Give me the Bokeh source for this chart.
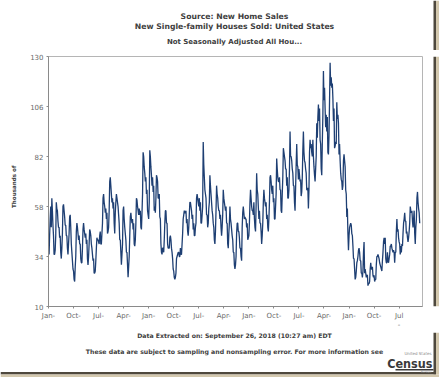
from bokeh.plotting import figure
from bokeh.models import Range1d, FixedTicker, Label
from bokeh.layouts import column, row
from bokeh.embed import file_html
from bokeh.resources import INLINE

# Monthly new single-family houses sold, not seasonally adjusted (thousands)
sales_1960s = [
    42, 35, 44, 52, 58, 48, 62, 56, 49, 44, 35, 35,   # 1963
    37, 44, 60, 57, 56, 51, 48, 48, 43, 44, 36, 33,   # 1964
    38, 45, 58, 59, 56, 53, 49, 49, 44, 44, 38, 35,   # 1965
    40, 45, 53, 54, 48, 40, 36, 32, 28, 27, 23, 22,   # 1966
    29, 34, 46, 50, 48, 45, 42, 44, 40, 40, 33, 31,   # 1967
    31, 38, 47, 50, 47, 45, 43, 45, 40, 42, 33, 30,   # 1968
    34, 40, 47, 46, 44, 40, 38, 35, 32, 33, 26, 26,   # 1969
]
sales_1970s = [
    27, 32, 38, 43, 42, 42, 41, 40, 44, 46, 40, 40,   # 1970
    45, 50, 62, 64, 60, 58, 55, 57, 52, 55, 45, 46,   # 1971
    48, 56, 70, 72, 68, 64, 60, 62, 57, 60, 50, 45,   # 1972
    55, 60, 64, 62, 60, 58, 54, 50, 42, 42, 36, 30,   # 1973
    35, 40, 56, 58, 52, 48, 45, 42, 36, 36, 30, 24,   # 1974
    29, 34, 44, 53, 55, 52, 50, 52, 47, 50, 40, 39,   # 1975
    42, 50, 62, 61, 58, 56, 54, 57, 54, 56, 48, 47,   # 1976
    55, 64, 84, 82, 77, 74, 70, 72, 64, 66, 56, 54,   # 1977
    52, 60, 85, 82, 77, 73, 68, 72, 65, 68, 56, 58,   # 1978
    55, 62, 73, 72, 70, 62, 62, 64, 53, 52, 40, 36,   # 1979
]
sales_1980s = [
    35, 38, 38, 36, 42, 50, 56, 56, 50, 50, 40, 38,   # 1980
    38, 38, 43, 44, 42, 38, 36, 33, 28, 27, 24, 23,   # 1981
    24, 26, 33, 34, 35, 36, 36, 34, 34, 38, 35, 35,   # 1982
    40, 45, 52, 54, 56, 55, 55, 56, 50, 52, 46, 44,   # 1983
    48, 54, 60, 60, 58, 56, 52, 54, 47, 50, 44, 44,   # 1984
    48, 50, 62, 64, 62, 60, 58, 62, 56, 60, 50, 50,   # 1985
    54, 58, 89, 78, 72, 66, 64, 62, 54, 54, 48, 50,   # 1986
    57, 60, 73, 68, 64, 60, 56, 54, 50, 48, 42, 40,   # 1987
    46, 56, 68, 64, 62, 58, 56, 56, 52, 54, 48, 44,   # 1988
    48, 54, 66, 62, 60, 58, 56, 58, 50, 50, 40, 38,   # 1989
]
sales_1990s = [
    45, 50, 58, 52, 50, 47, 44, 42, 36, 36, 30, 28,   # 1990
    30, 34, 45, 50, 50, 46, 46, 43, 38, 38, 34, 32,   # 1991
    48, 55, 58, 55, 52, 53, 52, 52, 48, 50, 42, 43,   # 1992
    44, 50, 60, 66, 62, 58, 56, 56, 54, 60, 52, 48,   # 1993
    46, 58, 74, 66, 64, 58, 52, 56, 50, 50, 46, 40,   # 1994
    44, 50, 60, 66, 62, 60, 58, 60, 52, 54, 48, 46,   # 1995
    52, 60, 72, 73, 70, 66, 64, 68, 60, 62, 52, 52,   # 1996
    58, 64, 81, 76, 72, 70, 70, 72, 66, 66, 56, 55,   # 1997
    64, 72, 86, 84, 82, 80, 76, 76, 68, 72, 62, 62,   # 1998
    66, 76, 94, 82, 82, 80, 76, 74, 68, 68, 60, 56,   # 1999
]
sales_2000s = [
    67, 78, 88, 78, 77, 71, 76, 73, 70, 71, 63, 65,   # 2000
    72, 85, 94, 84, 80, 79, 76, 74, 66, 66, 67, 57,   # 2001
    66, 84, 90, 86, 88, 84, 82, 90, 82, 77, 73, 70,   # 2002
    76, 82, 98, 91, 101, 107, 99, 105, 90, 88, 76, 73,  # 2003
    89, 102, 123, 109, 115, 105, 96, 102, 94, 101, 84, 83,  # 2004
    92, 109, 127, 116, 120, 115, 117, 110, 99, 105, 86, 87,  # 2005
    89, 88, 108, 100, 102, 98, 83, 88, 80, 74, 71, 70,  # 2006
    66, 68, 80, 83, 80, 77, 66, 64, 53, 57, 45, 37,   # 2007
    44, 48, 49, 50, 49, 45, 44, 39, 33, 33, 28, 23,   # 2008
    24, 27, 31, 32, 34, 37, 38, 36, 32, 32, 26, 26,   # 2009
]
sales_2010s = [
    24, 27, 36, 41, 26, 28, 26, 24, 25, 25, 20, 21,   # 2010
    21, 22, 28, 31, 28, 28, 29, 25, 24, 25, 22, 23,   # 2011
    23, 30, 34, 34, 35, 34, 33, 31, 30, 29, 28, 27,   # 2012
    32, 36, 41, 43, 40, 43, 33, 31, 31, 36, 32, 31,   # 2013
    33, 35, 39, 39, 40, 38, 37, 36, 37, 36, 31, 36,   # 2014
    36, 46, 52, 46, 47, 43, 41, 40, 35, 39, 36, 40,   # 2015
    39, 45, 50, 52, 55, 51, 51, 45, 46, 43, 41, 43,   # 2016
    46, 50, 58, 56, 55, 56, 51, 48, 52, 56, 45, 40,   # 2017
    48, 52, 62, 65, 60, 57, 55, 50,                   # 2018 (Jan-Aug)
]

tick_labels = ["Jan-", "Oct-", "Jul-", "Apr-", "Jan-", "Oct-", "Jul-", "Apr-",
               "Jan-", "Oct-", "Jul-", "Apr-", "Jan-", "Oct-", "Jul\n-"]
y_ticks = [10, 34, 58, 82, 106, 130]

title_1 = "Source: New Home Sales"
title_2 = "New Single-family Houses Sold: United States"
subtitle = "Not Seasonally Adjusted All Hou..."
y_label = "Thousands of"
footer_1 = "Data Extracted on: September 26, 2018 (10:27 am) EDT"
footer_2 = "These data are subject to sampling and nonsampling error. For more information see"

sales = sales_1960s + sales_1970s + sales_1980s + sales_1990s + sales_2000s + sales_2010s
month_index = list(range(len(sales)))
tick_step = 45  # months between labelled ticks
tick_pos = [i * tick_step for i in range(len(tick_labels))]

W, H = 439, 377
TOP_H = 50          # header band
MID_BOTTOM = 332    # where footer band starts
LEFT_W = 27
RIGHT_X = 429
FONT = "DejaVu Sans"
TXT = "#404040"
SHADOW_DARK = "#4e483d"
SHADOW_LIGHT = "#d3c8ae"


def blank(x0, x1, y0, y1):
    """A figure whose data coordinates equal page pixels (y downwards)."""
    f = figure(width=x1 - x0, height=y1 - y0, output_backend="svg", toolbar_location=None,
               x_range=Range1d(x0, x1), y_range=Range1d(y1, y0),
               x_axis_type=None, y_axis_type=None, min_border=0)
    f.outline_line_color = None
    f.xgrid.visible = False
    f.ygrid.visible = False
    f.background_fill_color = "white"
    f.border_fill_color = "white"
    return f


def lab(f, x, y, text, size, bold=True, align="center", color=TXT, angle=0, font=FONT):
    f.add_layout(Label(x=x, y=y, text=text, text_font=font, text_font_size=size,
                       text_font_style="bold" if bold else "normal",
                       text_align=align, text_baseline="middle",
                       text_color=color, angle=angle))


def right_shadow(f, y0, y1):
    f.quad(left=433, right=435.5, top=y0, bottom=y1, fill_color=SHADOW_DARK, line_color=None)
    f.quad(left=435.5, right=439, top=y0, bottom=y1, fill_color=SHADOW_LIGHT, line_color=None)


# header
top = blank(0, W, 0, TOP_H)
lab(top, 234, 15.5, title_1, "7.7px")
lab(top, 234, 25.5, title_2, "7.7px")
lab(top, 234, 41, subtitle, "7px")
right_shadow(top, 0, TOP_H)

# left band with the axis title
left = blank(0, LEFT_W, TOP_H, MID_BOTTOM)
lab(left, 13.5, 197, y_label, "5.6px", angle=1.5708)

# right band (shadow)
right = blank(RIGHT_X, W, TOP_H, MID_BOTTOM)
right_shadow(right, TOP_H, MID_BOTTOM)

# main chart
p = figure(width=RIGHT_X - LEFT_W, height=MID_BOTTOM - TOP_H, output_backend="svg",
           toolbar_location=None, x_range=Range1d(0, 672), y_range=Range1d(10, 130),
           min_border=0, min_border_left=20, min_border_right=7,
           min_border_top=6, min_border_bottom=24)
p.background_fill_color = "white"
p.border_fill_color = "white"
p.outline_line_color = "#b5b5b5"
p.xgrid.visible = False
p.ygrid.visible = False
p.line(month_index, sales, line_color="#1e3f73", line_width=1.3)

p.xaxis.ticker = FixedTicker(ticks=tick_pos)
p.xaxis.major_label_overrides = {t: l for t, l in zip(tick_pos, tick_labels)}
p.yaxis.ticker = FixedTicker(ticks=y_ticks)
for ax in (p.xaxis, p.yaxis):
    ax.axis_line_color = "#8a8a8a"
    ax.major_tick_line_color = "#8a8a8a"
    ax.major_tick_out = 2
    ax.major_tick_in = 0
    ax.minor_tick_line_color = None
    ax.major_label_text_font = FONT
    ax.major_label_text_font_size = "7px"
    ax.major_label_text_color = "#6a6a6a"
p.xaxis.major_label_standoff = 3
p.yaxis.major_label_standoff = 3

# footer
bottom = blank(0, W, MID_BOTTOM, H)
lab(bottom, 234, 335, footer_1, "6.2px")
lab(bottom, 234, 351, footer_2, "6.2px")
lab(bottom, 431, 353, "United States", "4px", bold=False, align="right", color="#8a8a8a")
lab(bottom, 432, 362.5, "Census", "12.5px", align="right", color="#3a3a3a",
    font="DejaVu Sans Condensed")
bottom.line(x=[395, 433], y=[369.3, 369.3], line_color="#3a3a3a", line_width=1.4)
lab(bottom, 431, 371.2, "Bureau", "3px", bold=False, align="right", color="#8a8a8a")
right_shadow(bottom, MID_BOTTOM, 374)
bottom.quad(left=0, right=435.5, top=371.5, bottom=374, fill_color=SHADOW_DARK, line_color=None)
bottom.quad(left=0, right=W, top=374, bottom=H, fill_color=SHADOW_LIGHT, line_color=None)

layout = column(top, row(left, p, right), bottom)

out = file_html(layout, INLINE)
open("out.html", "w").write(out)
